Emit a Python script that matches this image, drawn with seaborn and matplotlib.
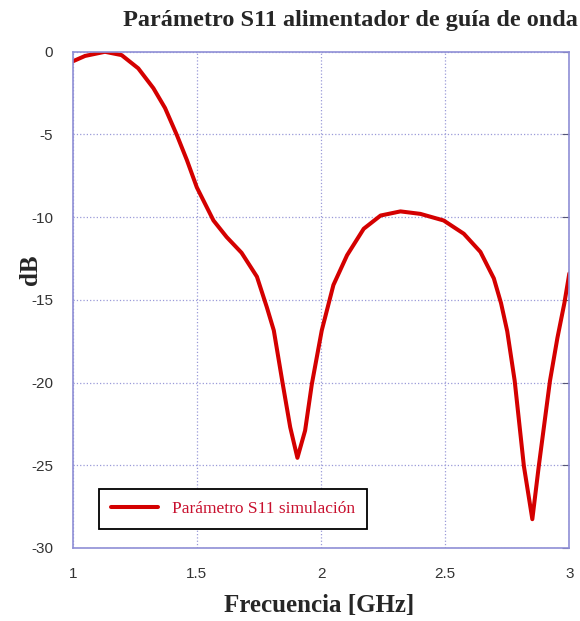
import pandas as pd
import matplotlib.pyplot as plt
import seaborn as sns

# S11 curve
freq_ghz = [1.00, 1.05, 1.13, 1.197, 1.264, 1.325, 1.372, 1.42, 1.46, 1.50,
            1.567, 1.62, 1.68, 1.742, 1.782, 1.81, 1.845, 1.876, 1.905, 1.936,
            1.963, 2.003, 2.05, 2.105, 2.172, 2.24, 2.32, 2.40, 2.494, 2.575,
            2.642, 2.696, 2.725, 2.75, 2.78, 2.817, 2.851, 2.877, 2.922, 2.952,
            2.98, 3.00]
s11_db = [-0.58, -0.25, 0.0, -0.2, -1.0, -2.2, -3.4, -5.05, -6.55, -8.2,
          -10.2, -11.2, -12.15, -13.6, -15.45, -16.85, -20.0, -22.7, -24.55, -22.9,
          -20.1, -16.85, -14.1, -12.3, -10.7, -9.9, -9.65, -9.8, -10.2, -11.0,
          -12.1, -13.7, -15.2, -16.9, -19.9, -25.05, -28.26, -25.05, -19.9, -17.3,
          -15.2, -13.4]
x_ticks = [1, 1.5, 2, 2.5, 3]
x_tick_labels = ["1", "1.5", "2", "2.5", "3"]
y_ticks = [0, -5, -10, -15, -20, -25, -30]

df = pd.DataFrame({"freq": freq_ghz, "s11": s11_db})

sns.set_style("white")
plt.rcParams["font.family"] = ["Liberation Sans", "DejaVu Sans"]
plt.rcParams["axes.unicode_minus"] = False

fig = plt.figure(figsize=(5.8, 6.21), dpi=100)
ax = fig.add_axes([0.1253, 0.1176, 0.8563, 0.799])

sns.lineplot(data=df, x="freq", y="s11", ax=ax, color="#d40000", linewidth=2.9,
             label="Parámetro S11 simulación", solid_joinstyle="round",
             solid_capstyle="round")

ax.set_xlim(1, 3)
ax.set_ylim(-30, 0)
ax.set_xticks(x_ticks)
ax.set_xticklabels(x_tick_labels)
ax.set_yticks(y_ticks)
ax.tick_params(axis="x", length=0, labelsize=11, labelcolor="#333333", pad=14)
ax.tick_params(axis="y", direction="in", length=5, color="#555577",
               labelsize=11, labelcolor="#333333", pad=14, right=True)
ax.grid(True, color="#9a9ad8", linestyle=":", linewidth=0.9)
for sp in ax.spines.values():
    sp.set_color("#8f8fd6")
    sp.set_linewidth(1.2)

ax.set_xlabel("")
ax.set_ylabel("")
serif = ["Liberation Serif", "DejaVu Serif"]
fig.text(0.605, 0.967, "Parámetro S11 alimentador de guía de onda",
         family=serif, fontweight="bold", fontsize=17.5, ha="center", va="center")
fig.text(0.55, 0.025, "Frecuencia [GHz]", family=serif, fontweight="bold",
         fontsize=18, ha="center", va="center")
fig.text(0.052, 0.565, "dB", family=serif, fontweight="bold", fontsize=18,
         rotation=90, ha="center", va="center")

leg = ax.legend(loc="lower left", bbox_to_anchor=(0.035, 0.02), fancybox=False,
                framealpha=1, edgecolor="black", handlelength=2.7,
                prop={"family": serif, "size": 12.5}, borderpad=0.7)
leg.get_frame().set_linewidth(1.3)
for t in leg.get_texts():
    t.set_color("#c8102e")

fig.savefig("out.png", dpi=100)
